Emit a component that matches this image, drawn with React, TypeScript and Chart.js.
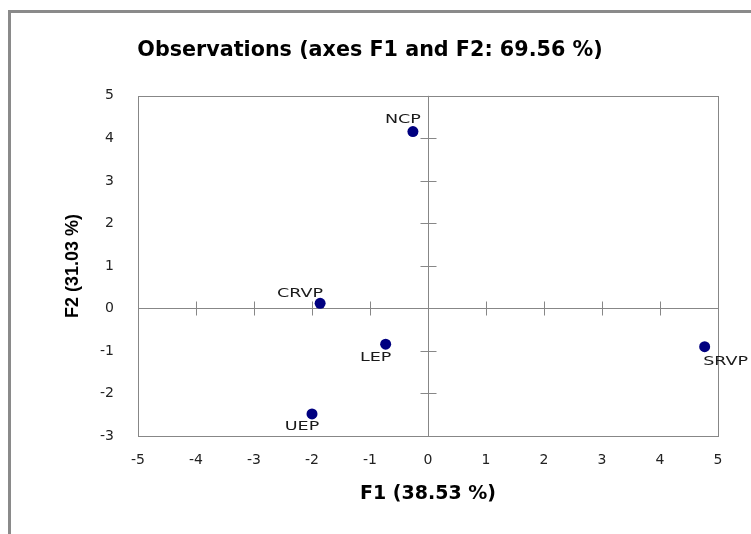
import React, { useEffect, useRef } from "react";
import { Chart, registerables } from "chart.js";

Chart.register(...registerables);

const pointNames = ["NCP", "CRVP", "LEP", "UEP", "SRVP"];
const f1Values = [-0.26, -1.86, -0.73, -2.0, 4.77];
const f2Values = [4.16, 0.12, -0.84, -2.48, -0.9];
const xTickValues = [-5, -4, -3, -2, -1, 0, 1, 2, 3, 4, 5];
const yTickValues = [-3, -2, -1, 0, 1, 2, 3, 4, 5];
const chartTitle = "Observations (axes F1 and F2: 69.56 %)";
const xTitle = "F1 (38.53 %)";
const yTitle = "F2 (31.03 %)";

const AXIS_GRAY = "#878787";

// label placement relative to each point (pixels), Excel-like
const labelPlacement: Record<string, [number, number]> = {
  NCP: [-10, -12],
  CRVP: [-20, -10],
  LEP: [-10, 13],
  UEP: [-10, 13],
  SRVP: [21, 15],
};

const framePlugin = {
  id: "frame",
  beforeDraw(chart: any) {
    const ctx = chart.ctx;
    ctx.save();
    ctx.fillStyle = "#ffffff";
    ctx.fillRect(0, 0, chart.width, chart.height);
    ctx.fillStyle = "#8a8a8a";
    ctx.fillRect(8, 10, 3, chart.height);
    ctx.fillRect(8, 10, chart.width, 3);
    ctx.restore();
  },
};

const crossAxesPlugin = {
  id: "crossAxes",
  beforeDatasetsDraw(chart: any) {
    const { ctx, chartArea } = chart;
    const xs = chart.scales.x;
    const ys = chart.scales.y;
    ctx.save();
    ctx.strokeStyle = AXIS_GRAY;
    ctx.lineWidth = 1;
    // plot box
    ctx.strokeRect(
      Math.round(chartArea.left) + 0.5,
      Math.round(chartArea.top) + 0.5,
      Math.round(chartArea.right - chartArea.left),
      Math.round(chartArea.bottom - chartArea.top)
    );
    const y0 = Math.round(ys.getPixelForValue(0)) + 0.5;
    const x0 = Math.round(xs.getPixelForValue(0)) + 0.5;
    ctx.beginPath();
    ctx.moveTo(chartArea.left, y0);
    ctx.lineTo(chartArea.right, y0);
    ctx.moveTo(x0, chartArea.top);
    ctx.lineTo(x0, chartArea.bottom);
    xTickValues.forEach((v) => {
      const px = Math.round(xs.getPixelForValue(v)) + 0.5;
      ctx.moveTo(px, y0 - 7);
      ctx.lineTo(px, y0 + 7);
    });
    yTickValues.forEach((v) => {
      const py = Math.round(ys.getPixelForValue(v)) + 0.5;
      ctx.moveTo(x0 - 8, py);
      ctx.lineTo(x0 + 8, py);
    });
    ctx.stroke();
    ctx.restore();
  },
};

const pointLabelPlugin = {
  id: "pointLabels",
  afterDatasetsDraw(chart: any) {
    const { ctx } = chart;
    const meta = chart.getDatasetMeta(0);
    meta.data.forEach((el: any, i: number) => {
      const name = pointNames[i];
      const [dx, dy] = labelPlacement[name] || [0, -12];
      ctx.save();
      ctx.font = "13px 'DejaVu Sans'";
      ctx.fillStyle = "#1a1a1a";
      ctx.textAlign = "center";
      ctx.textBaseline = "middle";
      ctx.translate(el.x + dx, el.y + dy);
      ctx.scale(1.35, 1);
      ctx.fillText(name, 0, 0);
      ctx.restore();
    });
  },
};

export default function App() {
  const canvasRef = useRef<HTMLCanvasElement | null>(null);

  useEffect(() => {
    if (!canvasRef.current) return;
    const points = f1Values.map((x, i) => ({ x, y: f2Values[i] }));
    const chart = new Chart(canvasRef.current, {
      type: "scatter",
      data: {
        datasets: [
          {
            label: "Observations",
            data: points,
            backgroundColor: "#000080",
            borderColor: "#000080",
            borderWidth: 0,
            pointRadius: 5.5,
            pointHoverRadius: 5.5,
          },
        ],
      },
      options: {
        responsive: false,
        animation: false,
        events: [],
        layout: { padding: { left: 22, right: 33, top: 0, bottom: 0 } },
        plugins: {
          legend: { display: false },
          tooltip: { enabled: false },
          title: {
            display: true,
            text: chartTitle,
            color: "#000000",
            font: { family: "'DejaVu Sans'", size: 20.7, weight: "bold" },
            padding: { top: 38, bottom: 33 },
          },
        },
        scales: {
          x: {
            type: "linear",
            position: "bottom",
            min: -5,
            max: 5,
            afterFit: (scale: any) => {
              scale.height = 98;
            },
            afterBuildTicks: (scale: any) => {
              scale.ticks = xTickValues.map((v) => ({ value: v }));
            },
            grid: { display: false, drawTicks: false },
            border: { display: false },
            ticks: {
              padding: 16,
              color: "#222222",
              font: { family: "'DejaVu Sans'", size: 14 },
              callback: (v: any) => String(v),
            },
            title: {
              display: true,
              text: xTitle,
              color: "#000000",
              font: { family: "'DejaVu Sans'", size: 19, weight: "bold" },
              padding: { top: 0, bottom: 28.6 },
            },
          },
          y: {
            type: "linear",
            position: "left",
            min: -3,
            max: 5,
            afterFit: (scale: any) => {
              scale.width = 116;
            },
            afterBuildTicks: (scale: any) => {
              scale.ticks = yTickValues.map((v) => ({ value: v }));
            },
            grid: { display: false, drawTicks: false },
            border: { display: false },
            ticks: {
              padding: 24,
              color: "#222222",
              font: { family: "'DejaVu Sans'", size: 14 },
              callback: (v: any) => String(v),
            },
            title: {
              display: true,
              text: yTitle,
              color: "#000000",
              font: { family: "'Liberation Sans'", size: 18, weight: "bold" },
              padding: { top: 40, bottom: 0 },
            },
          },
        },
      },
      plugins: [framePlugin, crossAxesPlugin, pointLabelPlugin],
    } as any);
    return () => chart.destroy();
  }, []);

  return (
    <div style={{ position: "absolute", left: 0, top: 0, width: 751, height: 534 }}>
      <canvas ref={canvasRef} width={751} height={534} style={{ display: "block" }} />
    </div>
  );
}
